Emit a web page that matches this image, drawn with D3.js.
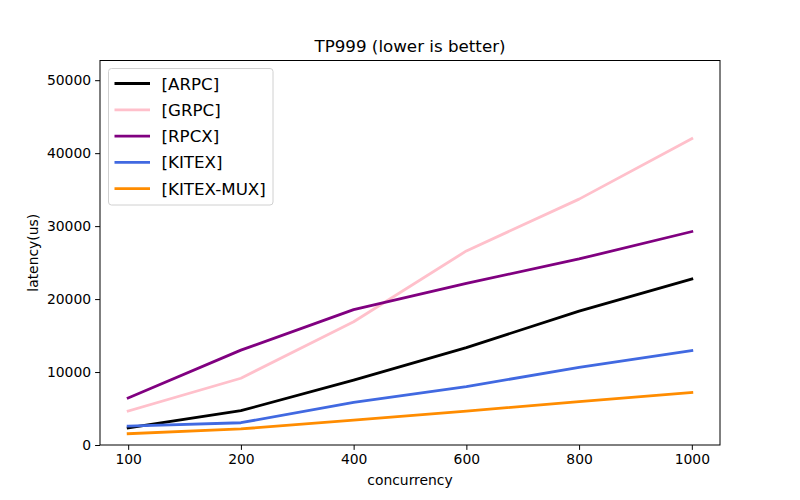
<!DOCTYPE html>
<html>
<head>
<meta charset="utf-8">
<script src="https://cdn.jsdelivr.net/npm/d3@7"></script>
<style>
  body { margin: 0; background: #fff; }
  text { font-family: "DejaVu Sans", sans-serif; fill: #000; }
</style>
</head>
<body>
<svg id="chart"></svg>
<script>
// concurrency levels (treated as categories, evenly spaced)
const concurrency = [100, 200, 400, 600, 800, 1000];

// TP999 latency in microseconds
const arpc     = [2350, 4700, 8900, 13350, 18350, 22750];
const grpc     = [4650, 9150, 16900, 26600, 33700, 42000];
const rpcx     = [6450, 13000, 18550, 22150, 25500, 29250];
const kitex    = [2600, 3050, 5850, 8000, 10650, 12950];
const kitexMux = [1550, 2200, 3400, 4650, 5950, 7200];

const seriesNames  = ['[ARPC]', '[GRPC]', '[RPCX]', '[KITEX]', '[KITEX-MUX]'];
const seriesValues = [arpc, grpc, rpcx, kitex, kitexMux];
const seriesColors = ['#000000', '#ffc0cb', '#800080', '#4169e1', '#ff8c00'];

const yTicks = [0, 10000, 20000, 30000, 40000, 50000];

const width = 800, height = 500;
const margin = { top: 60.5, right: 80, bottom: 55, left: 100 };
const innerW = width - margin.left - margin.right;
const innerH = height - margin.top - margin.bottom;

const svg = d3.select('#chart')
    .attr('width', width)
    .attr('height', height);

const chart = svg.append('g')
    .attr('transform', `translate(${margin.left}, ${margin.top})`);

const x = d3.scalePoint()
    .domain(concurrency)
    .range([0, innerW])
    .padding(0.25);

const y = d3.scaleLinear()
    .domain([0, 52700])
    .range([innerH, 0]);

// axes
const xAxis = d3.axisBottom(x).tickSizeOuter(0).tickSize(4.9).tickPadding(4);
const yAxis = d3.axisLeft(y).tickValues(yTicks).tickFormat(d3.format('d'))
    .tickSizeOuter(0).tickSize(4.9).tickPadding(4);

chart.append('g')
    .attr('transform', `translate(0, ${innerH})`)
    .call(xAxis)
    .call(g => g.select('.domain').remove())
    .selectAll('text')
    .style('font-size', '13.9px')
    .style('font-family', '"DejaVu Sans", sans-serif');

chart.append('g')
    .call(yAxis)
    .call(g => g.select('.domain').remove())
    .selectAll('text')
    .style('font-size', '13.9px')
    .style('font-family', '"DejaVu Sans", sans-serif');

chart.selectAll('.tick line').attr('stroke', '#000').attr('stroke-width', 1);

// lines
const line = d3.line()
    .x((d, i) => x(concurrency[i]))
    .y(d => y(d));

seriesValues.forEach((vals, i) => {
    chart.append('path')
        .datum(vals)
        .attr('fill', 'none')
        .attr('stroke', seriesColors[i])
        .attr('stroke-width', 2.8)
        .attr('stroke-linejoin', 'round')
        .attr('stroke-linecap', 'square')
        .attr('d', line);
});

// frame
chart.append('rect')
    .attr('width', innerW)
    .attr('height', innerH)
    .attr('fill', 'none')
    .attr('stroke', '#000')
    .attr('stroke-width', 1);

// title and axis labels
svg.append('text')
    .attr('x', margin.left + innerW / 2)
    .attr('y', 52)
    .attr('text-anchor', 'middle')
    .style('font-size', '16.7px')
    .text('TP999 (lower is better)');

svg.append('text')
    .attr('x', margin.left + innerW / 2)
    .attr('y', 485)
    .attr('text-anchor', 'middle')
    .style('font-size', '13.9px')
    .text('concurrency');

svg.append('text')
    .attr('transform', `translate(38, ${margin.top + innerH / 2}) rotate(-90)`)
    .attr('text-anchor', 'middle')
    .style('font-size', '13.9px')
    .text('latency(us)');

// legend
const legend = svg.append('g')
    .attr('transform', 'translate(108.5, 68.5)');

legend.append('rect')
    .attr('width', 164.5)
    .attr('height', 136.5)
    .attr('rx', 3)
    .attr('fill', '#fff')
    .attr('fill-opacity', 0.8)
    .attr('stroke', '#d0d0d0')
    .attr('stroke-width', 1);

seriesNames.forEach((name, i) => {
    const rowY = 15 + i * 26.3;
    legend.append('line')
        .attr('x1', 6)
        .attr('x2', 41.5)
        .attr('y1', rowY)
        .attr('y2', rowY)
        .attr('stroke', seriesColors[i])
        .attr('stroke-width', 2.8);
    legend.append('text')
        .attr('x', 53)
        .attr('y', rowY + 6)
        .style('font-size', '16.7px')
        .text(name);
});
</script>
</body>
</html>
